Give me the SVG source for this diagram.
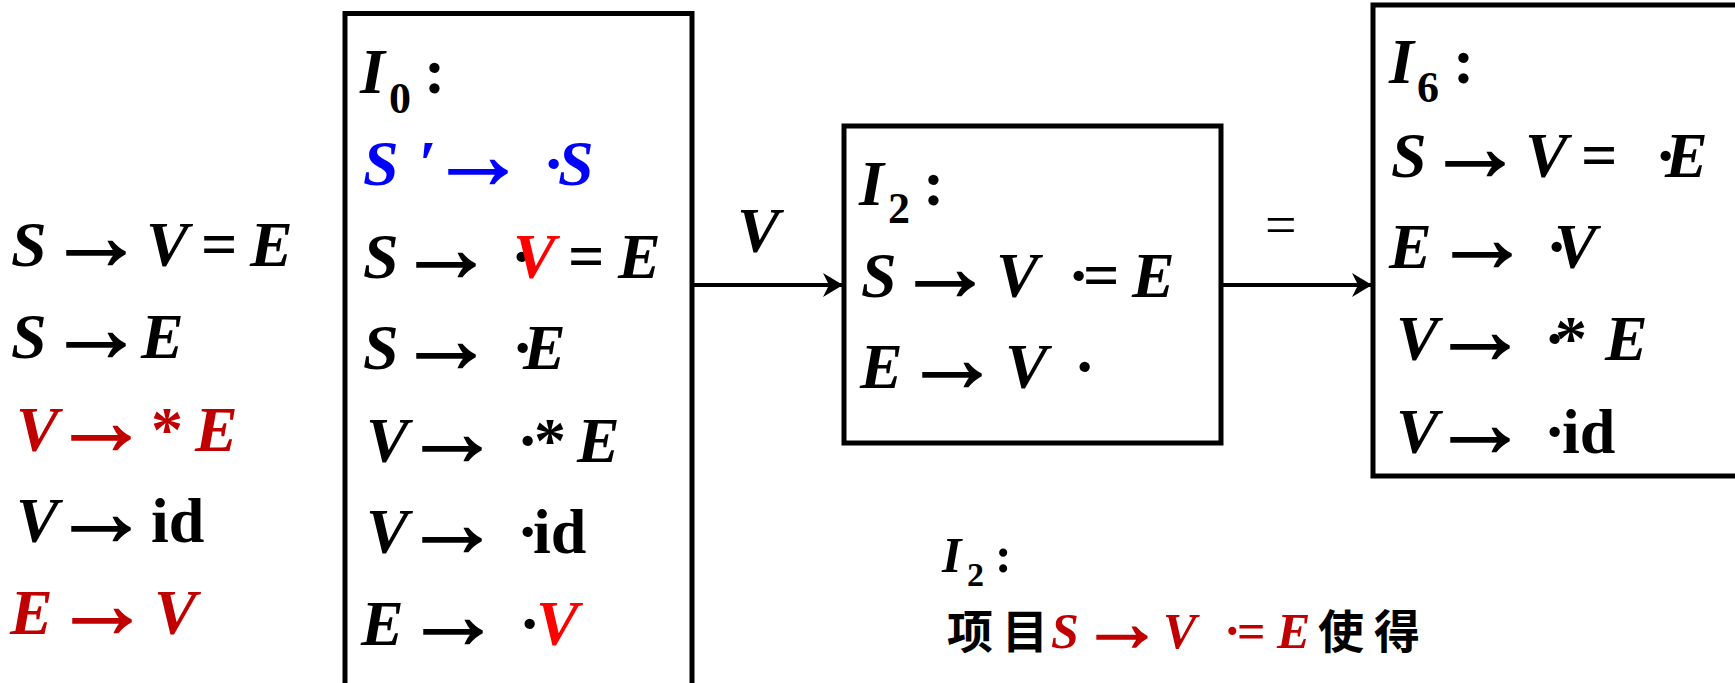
<svg xmlns="http://www.w3.org/2000/svg" width="1735" height="683" viewBox="0 0 1735 683">
<defs>
<style>
.t{font-family:"Liberation Serif","Times New Roman",serif;font-size:64px;font-weight:bold;fill:#000}
.i{font-style:italic}
.a{font-family:"Liberation Serif","Times New Roman",serif;font-size:98px;font-weight:bold;fill:#000;stroke:#000;stroke-width:1.5}
.an{font-size:84px}
.sub{font-size:44px}
.n{font-size:50px}
.ns{font-size:34px}
.k{font-family:"Noto Sans CJK SC",sans-serif;font-size:46px;font-weight:bold}
.r{fill:#C00000}
.a.r{stroke:#C00000}
.br{fill:#FF0000}
.b{fill:#0000FF}
.a.b{stroke:#0000FF}
.box{fill:none;stroke:#000;stroke-width:5}
.edge{fill:none;stroke:#000;stroke-width:4}
.lbl{font-family:"Liberation Serif","Times New Roman",serif;font-size:56px;fill:#000}
</style>
<marker id="ah" viewBox="0 0 20 24" refX="20" refY="12" markerWidth="20" markerHeight="24" markerUnits="userSpaceOnUse" orient="auto">
<path d="M0,0 L20,12 L0,24 L6,12 Z" fill="#000"/>
</marker>
</defs>
<rect width="1735" height="683" fill="#fff"/>

<g id="grammar">
<text class="t" y="266"><tspan class="i" x="11">S</tspan><tspan class="i" x="146">V</tspan><tspan x="201">=</tspan><tspan class="i" x="250">E</tspan></text>
<text class="a" x="47" y="269">→</text>
<text class="t" y="358"><tspan class="i" x="11">S</tspan><tspan class="i" x="141">E</tspan></text>
<text class="a" x="47" y="361">→</text>
<text class="t r" y="451"><tspan class="i" x="16">V</tspan><tspan x="151">*</tspan><tspan class="i" x="195">E</tspan></text>
<text class="a r" x="52" y="454">→</text>
<text class="t" y="542"><tspan class="i" x="16">V</tspan><tspan x="151">id</tspan></text>
<text class="a" x="52" y="545">→</text>
<text class="t r" y="634"><tspan class="i" x="10">E</tspan><tspan class="i" x="154">V</tspan></text>
<text class="a r" x="53" y="637">→</text>
</g>

<g id="I0">
<rect class="box" x="345" y="13.5" width="347" height="700"/>
<text class="t" y="93"><tspan class="i" x="360">I</tspan><tspan class="sub" x="389" y="113">0</tspan><tspan x="424" y="93">:</tspan></text>
<text class="t b" y="185"><tspan class="i" x="363">S</tspan><tspan class="i" x="418">′</tspan><tspan x="543">·</tspan><tspan class="i" x="558">S</tspan></text>
<text class="a b" x="429" y="188">→</text>
<text class="t" y="278"><tspan class="i" x="363">S</tspan><tspan x="511">·</tspan><tspan class="i br" x="513">V</tspan><tspan x="568">=</tspan><tspan class="i" x="618">E</tspan></text>
<text class="a" x="397" y="281">→</text>
<text class="t" y="369"><tspan class="i" x="363">S</tspan><tspan x="512">·</tspan><tspan class="i" x="523">E</tspan></text>
<text class="a" x="397" y="372">→</text>
<text class="t" y="462"><tspan class="i" x="366">V</tspan><tspan x="517">·</tspan><tspan x="534">*</tspan><tspan class="i" x="577">E</tspan></text>
<text class="a" x="403" y="465">→</text>
<text class="t" y="553"><tspan class="i" x="366">V</tspan><tspan x="517">·</tspan><tspan x="533">id</tspan></text>
<text class="a" x="403" y="556">→</text>
<text class="t" y="645"><tspan class="i" x="361">E</tspan><tspan x="519">·</tspan><tspan class="i br" x="536">V</tspan></text>
<text class="a" x="404" y="648">→</text>
</g>

<g id="I2">
<rect class="box" x="844" y="126" width="377" height="317"/>
<text class="t" y="205"><tspan class="i" x="859">I</tspan><tspan class="sub" x="888" y="223">2</tspan><tspan x="923" y="205">:</tspan></text>
<text class="t" y="297"><tspan class="i" x="861">S</tspan><tspan class="i" x="996">V</tspan><tspan x="1068">·</tspan><tspan x="1083">=</tspan><tspan class="i" x="1132">E</tspan></text>
<text class="a" x="896" y="300">→</text>
<text class="t" y="388"><tspan class="i" x="860">E</tspan><tspan class="i" x="1005">V</tspan><tspan x="1074">·</tspan></text>
<text class="a" x="903" y="391">→</text>
</g>

<g id="I6">
<rect class="box" x="1373" y="5" width="380" height="471"/>
<text class="t" y="83"><tspan class="i" x="1389">I</tspan><tspan class="sub" x="1417" y="102">6</tspan><tspan x="1453" y="83">:</tspan></text>
<text class="t" y="177"><tspan class="i" x="1391">S</tspan><tspan class="i" x="1525">V</tspan><tspan x="1581">=</tspan><tspan x="1655">·</tspan><tspan class="i" x="1665">E</tspan></text>
<text class="a" x="1426" y="180">→</text>
<text class="t" y="268"><tspan class="i" x="1389">E</tspan><tspan x="1546">·</tspan><tspan class="i" x="1554">V</tspan></text>
<text class="a" x="1433" y="271">→</text>
<text class="t" y="360"><tspan class="i" x="1396">V</tspan><tspan x="1544">·</tspan><tspan x="1555">*</tspan><tspan class="i" x="1605">E</tspan></text>
<text class="a" x="1431" y="363">→</text>
<text class="t" y="453"><tspan class="i" x="1396">V</tspan><tspan x="1544">·</tspan><tspan x="1562">id</tspan></text>
<text class="a" x="1431" y="456">→</text>
</g>

<g id="note">
<text class="t n" y="572"><tspan class="i" x="942">I</tspan><tspan class="ns" x="967" y="586">2</tspan><tspan x="995" y="572">:</tspan></text>
<text class="t n" y="648"><tspan class="k" x="947">项</tspan><tspan class="k" x="1002">目</tspan><tspan class="i r" x="1051">S</tspan><tspan class="i r" x="1163">V</tspan><tspan class="r" x="1224">·</tspan><tspan class="r" x="1237">=</tspan><tspan class="i r" x="1277">E</tspan><tspan class="k" x="1318">使</tspan><tspan class="k" x="1374">得</tspan></text>
<text class="a an r" x="1080" y="651">→</text>
</g>

<g id="connectors">
<line class="edge" x1="694" y1="285" x2="843" y2="285" marker-end="url(#ah)"/>
<text class="t i" x="737" y="252">V</text>
<line class="edge" x1="1223" y1="285" x2="1372" y2="285" marker-end="url(#ah)"/>
<text class="lbl" x="1265" y="244">=</text>
</g>
</svg>
